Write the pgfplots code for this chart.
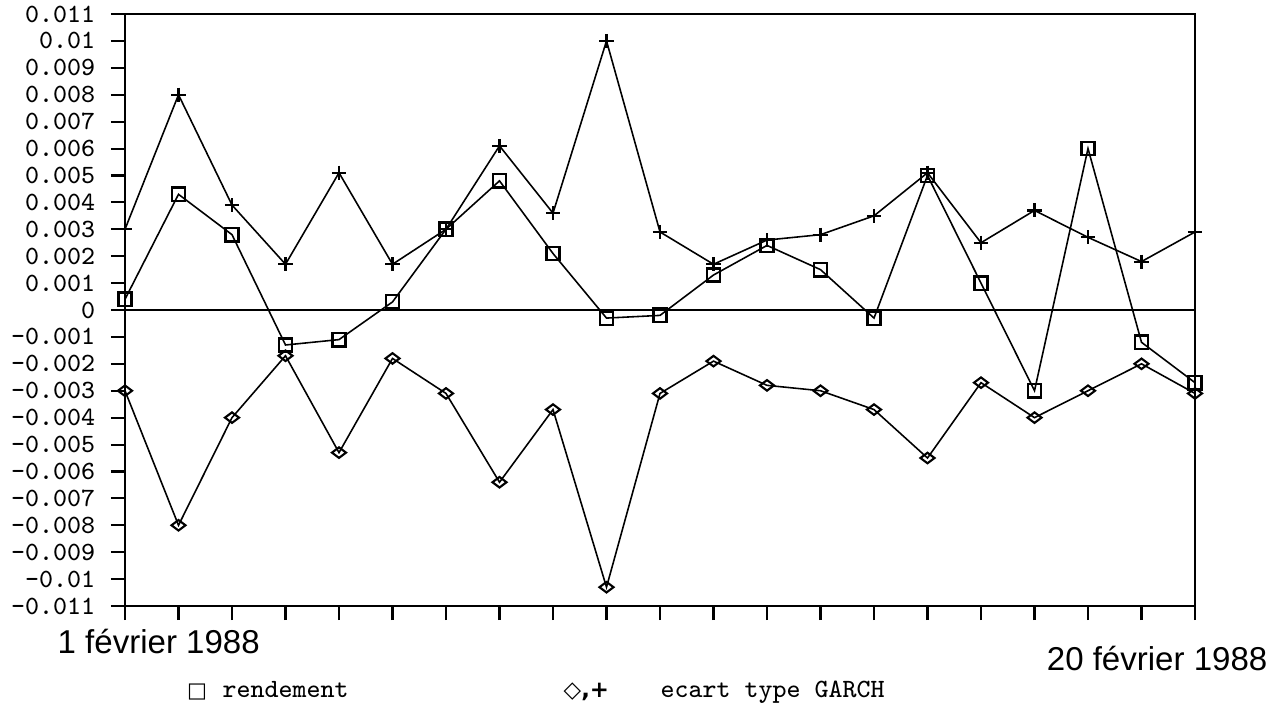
\documentclass[border=0pt]{standalone}
\usepackage{fontspec}
\setmainfont{Liberation Sans}
\newfontfamily\symfont{DejaVu Sans}
\usepackage{pgfplots}
\pgfplotsset{compat=1.18}

% rendement (carres)
\pgfplotstableread{
x y
0 0.0004
1 0.0043
2 0.0028
3 -0.0013
4 -0.0011
5 0.0003
6 0.0030
7 0.0048
8 0.0021
9 -0.0003
10 -0.0002
11 0.0013
12 0.0024
13 0.0015
14 -0.0003
15 0.0050
16 0.0010
17 -0.0030
18 0.0060
19 -0.0012
20 -0.0027
}\rendement

% ecart type GARCH, borne haute (+)
\pgfplotstableread{
x y
0 0.0030
1 0.0080
2 0.0039
3 0.0017
4 0.0051
5 0.0017
6 0.0030
7 0.0061
8 0.0036
9 0.0100
10 0.0029
11 0.0017
12 0.0026
13 0.0028
14 0.0035
15 0.0051
16 0.0025
17 0.0037
18 0.0027
19 0.0018
20 0.0029
}\garchhaut

% ecart type GARCH, borne basse (losanges)
\pgfplotstableread{
x y
0 -0.0030
1 -0.0080
2 -0.0040
3 -0.0017
4 -0.0053
5 -0.0018
6 -0.0031
7 -0.0064
8 -0.0037
9 -0.0103
10 -0.0031
11 -0.0019
12 -0.0028
13 -0.0030
14 -0.0037
15 -0.0055
16 -0.0027
17 -0.0040
18 -0.0030
19 -0.0020
20 -0.0031
}\garchbas

\begin{document}
\begin{tikzpicture}
  \begin{axis}[
    at={(0,0)}, anchor=south west,
    scale only axis,
    width=10.70cm, height=5.92cm,
    xmin=0, xmax=20,
    ymin=-0.011, ymax=0.011,
    axis line style={line width=0.7pt},
    tick align=outside,
    xtick pos=bottom, ytick pos=left,
    major tick length=0.14cm,
    tick style={black, line width=0.6pt},
    xtick={0,...,20},
    xticklabels={},
    ytick={-0.011,-0.010,-0.009,-0.008,-0.007,-0.006,-0.005,-0.004,-0.003,-0.002,-0.001,0,
           0.001,0.002,0.003,0.004,0.005,0.006,0.007,0.008,0.009,0.010,0.011},
    yticklabels={–0.011,–0.01,–0.009,–0.008,–0.007,–0.006,–0.005,–0.004,–0.003,–0.002,–0.001,0,
           0.001,0.002,0.003,0.004,0.005,0.006,0.007,0.008,0.009,0.01,0.011},
    scaled y ticks=false,
    yticklabel style={font=\ttfamily\fontsize{7.5}{8}\selectfont, xshift=-1pt},
    clip=false,
  ]
    \addplot[black, line width=0.7pt, forget plot] coordinates {(0,0) (20,0)};
    \addplot[black, line width=0.45pt, mark=square, mark size=1.9pt,
      mark options={solid, line width=0.7pt}] table {\rendement};
    \addplot[black, line width=0.45pt, mark=+, mark size=2pt,
      mark options={line width=0.6pt}] table {\garchhaut};
    \addplot[black, line width=0.45pt, mark=diamond, mark size=2pt,
      mark options={rotate=90, line width=0.6pt}] table {\garchbas};
  \end{axis}
  % dates
  \node[anchor=base west, inner sep=0pt, font=\fontsize{9.4}{10}\selectfont] at (-0.68,-0.47) {1 février 1988};
  \node[anchor=base east, inner sep=0pt, font=\fontsize{9.4}{10}\selectfont] at (11.43,-0.64) {20 février 1988};
  % legende
  \node[inner sep=0pt, font=\symfont\fontsize{6}{7}\selectfont] at (0.72,-0.86) {□};
  \node[anchor=base west, inner sep=0pt, font=\ttfamily\fontsize{7.5}{8}\selectfont] at (0.97,-0.91) {rendement};
  \node[anchor=base west, inner sep=0pt, font=\symfont\bfseries\fontsize{6.5}{7}\selectfont] at (4.38,-0.91) {◇,+};
  \node[anchor=base west, inner sep=0pt, font=\ttfamily\fontsize{7.5}{8}\selectfont] at (5.35,-0.91) {ecart type GARCH};
  \pgfresetboundingbox
  \path[use as bounding box] (-1.25,-1.09) rectangle (11.57,6.06);
\end{tikzpicture}
\end{document}
